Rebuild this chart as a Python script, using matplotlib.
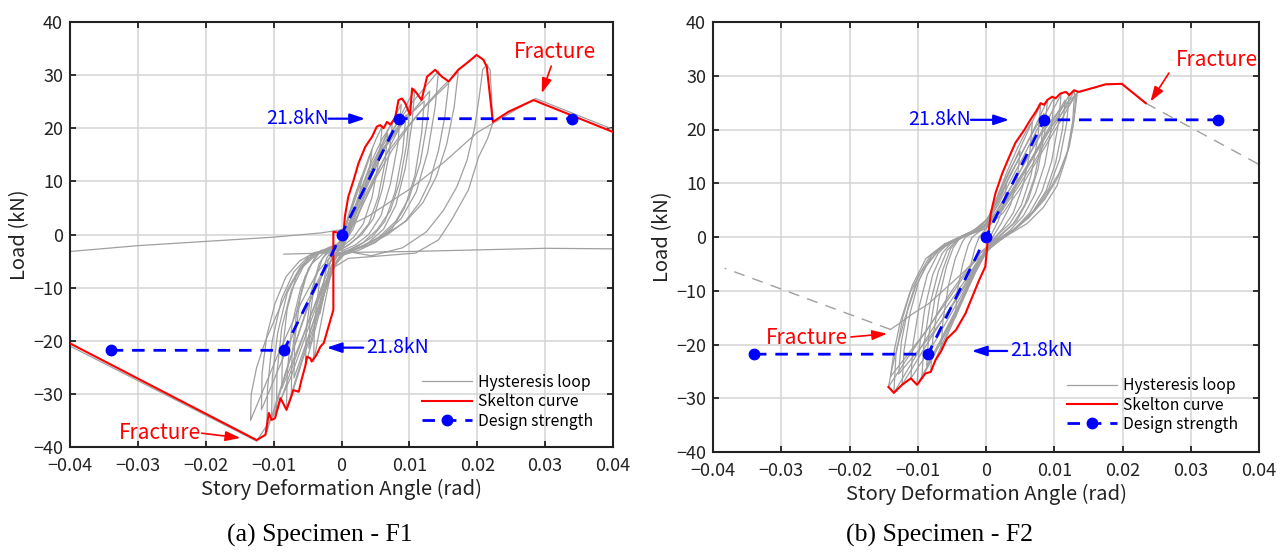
import matplotlib
matplotlib.use("Agg")
import matplotlib.pyplot as plt

plt.rcParams['font.family'] = ['Noto Sans CJK JP', 'DejaVu Sans']

# ---------------- data ----------------
x_ticks = [-0.04, -0.03, -0.02, -0.01, 0.0, 0.01, 0.02, 0.03, 0.04]
x_tick_labels = ['\u22120.04', '\u22120.03', '\u22120.02', '\u22120.01', '0', '0.01', '0.02', '0.03', '0.04']
y_ticks = [-40, -30, -20, -10, 0, 10, 20, 30, 40]
y_tick_labels = ['\u221240', '\u221230', '\u221220', '\u221210', '0', '10', '20', '30', '40']

design_x = [-0.034, -0.0085, 0.0, 0.0085, 0.034]
design_y = [-21.8, -21.8, 0.0, 21.8, 21.8]

# F1 hysteresis loops
f1_loops_x = [
    [0.0, 0.0010, 0.0020, 0.0030, 0.0026, 0.0018, 0.0008, -0.0004, -0.0012, -0.0022, -0.0019, -0.0012, -0.0004, 0.0],
    [0.0, 0.0012, 0.0025, 0.0036, 0.0045, 0.0040, 0.0030, 0.0017, 0.0004, -0.0008, -0.0018, -0.0026, -0.0032, -0.0029, -0.0020, -0.0010, 0.0],
    [0.0, 0.0012, 0.0026, 0.0040, 0.0051, 0.0060, 0.0055, 0.0045, 0.0032, 0.0018, 0.0004, -0.0008, -0.0016, -0.0024, -0.0033, -0.0041, -0.0040, -0.0033, -0.0022, -0.0012, 0.0],
    [0.0, 0.0014, 0.0028, 0.0042, 0.0056, 0.0068, 0.0064, 0.0054, 0.0040, 0.0024, 0.0008, -0.0006, -0.0016, -0.0026, -0.0037, -0.0048, -0.0046, -0.0039, -0.0028, -0.0015, 0.0],
    [0.0, 0.0015, 0.0030, 0.0045, 0.0060, 0.0075, 0.0070, 0.0060, 0.0047, 0.0030, 0.0012, -0.0004, -0.0015, -0.0026, -0.0038, -0.0053, -0.0052, -0.0045, -0.0033, -0.0020, -0.0008, 0.0],
    [0.0, 0.0016, 0.0032, 0.0050, 0.0068, 0.0088, 0.0083, 0.0072, 0.0058, 0.0040, 0.0020, 0.0002, -0.0012, -0.0025, -0.0040, -0.0057, -0.0074, -0.0073, -0.0066, -0.0054, -0.0038, -0.0020, -0.0006, 0.0],
    [0.0, 0.0020, 0.0038, 0.0056, 0.0075, 0.0095, 0.0090, 0.0079, 0.0064, 0.0045, 0.0024, 0.0005, -0.0010, -0.0024, -0.0040, -0.0055, -0.0070, -0.0069, -0.0061, -0.0049, -0.0033, -0.0016, 0.0],
    [0.0, 0.0018, 0.0036, 0.0056, 0.0078, 0.0100, 0.0096, 0.0086, 0.0072, 0.0053, 0.0032, 0.0010, -0.0006, -0.0020, -0.0036, -0.0058, -0.0088, -0.0087, -0.0080, -0.0067, -0.0050, -0.0030, -0.0012, 0.0],
    [0.0, 0.0018, 0.0036, 0.0055, 0.0075, 0.0092, 0.0108, 0.0104, 0.0094, 0.0080, 0.0062, 0.0040, 0.0018, 0.0000, -0.0014, -0.0028, -0.0043, -0.0062, -0.0081, -0.0080, -0.0073, -0.0060, -0.0044, -0.0026, -0.0010, 0.0],
    [0.0, 0.0020, 0.0040, 0.0060, 0.0080, 0.0100, 0.0122, 0.0118, 0.0108, 0.0093, 0.0074, 0.0050, 0.0025, 0.0004, -0.0012, -0.0028, -0.0046, -0.0070, -0.0096, -0.0095, -0.0088, -0.0074, -0.0056, -0.0035, -0.0015, 0.0],
    [0.0, 0.0020, 0.0042, 0.0065, 0.0088, 0.0110, 0.0130, 0.0126, 0.0116, 0.0100, 0.0080, 0.0055, 0.0030, 0.0006, -0.0012, -0.0030, -0.0052, -0.0082, -0.0118, -0.0117, -0.0110, -0.0098, -0.0082, -0.0062, -0.0040, -0.0018, 0.0],
    [0.0, 0.0020, 0.0040, 0.0062, 0.0085, 0.0105, 0.0125, 0.0143, 0.0138, 0.0127, 0.0110, 0.0088, 0.0062, 0.0035, 0.0010, -0.0010, -0.0026, -0.0045, -0.0072, -0.0103, -0.0102, -0.0094, -0.0080, -0.0062, -0.0040, -0.0018, 0.0],
    [0.0, 0.0022, 0.0045, 0.0068, 0.0092, 0.0115, 0.0138, 0.0158, 0.0152, 0.0143, 0.0130, 0.0115, 0.0094, 0.0068, 0.0040, 0.0012, -0.0010, -0.0028, -0.0050, -0.0080, -0.0110, -0.0109, -0.0102, -0.0088, -0.0070, -0.0048, -0.0024, 0.0],
    [0.0, 0.0025, 0.0050, 0.0075, 0.0100, 0.0125, 0.0150, 0.0172, 0.0166, 0.0155, 0.0140, 0.0120, 0.0095, 0.0065, 0.0035, 0.0008, -0.0015, -0.0035, -0.0060, -0.0095, -0.0134, -0.0133, -0.0125, -0.0112, -0.0095, -0.0078, -0.0060, -0.0040, -0.0020, 0.0],
    [0.0, 0.0044, 0.0090, 0.0125, 0.0150, 0.0170, 0.0185, 0.0196, 0.0203, 0.0208, 0.0214, 0.0219, 0.0223, 0.0215, 0.0202, 0.0187, 0.0162, 0.0143, 0.0109, 0.0060, 0.0010, -0.0015, -0.0030, -0.0050, -0.0075, -0.0100, -0.0118, -0.0125, -0.0400, -0.0400, -0.0300, -0.0200, -0.0100, -0.0030, 0.0000, 0.0040, 0.0100, 0.0150, 0.0200, 0.0228, 0.0257, 0.0286, 0.0400, 0.0400, 0.0300, 0.0200, 0.0100, 0.0000, -0.0085],
]
f1_loops_y = [
    [-1.0, 3.5, 7.5, 11.0, 7.0, 2.5, -0.5, -2.5, -5.5, -10.0, -6.5, -3.0, -1.5, -1.0],
    [-1.0, 3.5, 8.5, 12.5, 16.0, 11.0, 5.5, 1.0, -1.5, -3.5, -7.5, -11.5, -15.0, -10.5, -5.0, -2.5, -1.0],
    [-1.0, 4.0, 9.5, 14.5, 18.0, 20.4, 14.0, 7.0, 2.0, -0.5, -2.0, -3.5, -7.5, -12.5, -18.5, -23.9, -17.0, -9.5, -4.5, -2.5, -1.0],
    [-1.5, 3.0, 8.0, 12.5, 16.0, 19.0, 13.5, 7.0, 2.0, -0.5, -2.2, -3.2, -6.5, -11.0, -16.0, -21.5, -15.0, -8.5, -4.5, -2.8, -1.5],
    [-1.5, 3.5, 9.0, 14.0, 18.0, 21.0, 15.0, 8.5, 3.0, 0.0, -1.8, -3.0, -6.5, -11.5, -17.5, -24.6, -18.0, -11.0, -5.5, -3.0, -2.0, -1.5],
    [-1.5, 3.0, 8.5, 14.0, 19.5, 24.5, 17.0, 9.5, 3.5, 0.0, -2.0, -3.0, -6.0, -11.0, -17.0, -23.5, -30.5, -23.0, -14.5, -8.0, -4.0, -2.5, -1.8, -1.5],
    [-2.0, 2.5, 7.5, 12.5, 17.5, 22.5, 15.5, 8.0, 2.5, -0.5, -2.2, -3.2, -6.0, -10.5, -16.0, -21.5, -27.0, -20.0, -12.0, -6.5, -3.5, -2.5, -2.0],
    [-2.0, 4.0, 9.5, 15.0, 19.5, 23.0, 17.0, 10.0, 4.5, 1.0, -1.5, -3.0, -4.0, -7.0, -12.0, -19.5, -29.0, -22.0, -14.0, -8.0, -4.5, -3.0, -2.3, -2.0],
    [-2.0, 3.0, 8.5, 14.0, 19.5, 23.5, 27.4, 21.0, 12.5, 5.5, 1.0, -1.5, -3.0, -3.8, -6.5, -11.0, -17.0, -25.0, -33.0, -26.0, -17.0, -10.0, -5.5, -3.5, -2.5, -2.0],
    [-2.5, 4.5, 10.5, 16.0, 19.5, 22.5, 25.1, 19.0, 11.0, 5.0, 1.0, -1.5, -3.0, -3.8, -6.0, -10.0, -15.5, -24.0, -33.6, -26.0, -17.5, -10.5, -6.0, -3.5, -2.7, -2.5],
    [-2.8, 4.5, 10.5, 16.5, 20.5, 24.0, 27.0, 21.0, 13.5, 7.0, 2.5, -0.5, -2.3, -3.5, -4.2, -7.5, -13.0, -22.0, -33.0, -26.0, -19.0, -13.0, -8.0, -5.0, -3.4, -2.9, -2.8],
    [-2.5, 5.0, 11.0, 17.0, 21.5, 25.0, 28.0, 30.8, 24.0, 15.5, 8.0, 3.0, 0.0, -2.0, -3.2, -4.0, -7.0, -12.0, -22.0, -34.9, -27.0, -18.5, -11.0, -6.5, -3.8, -2.8, -2.5],
    [-3.0, 4.0, 10.0, 15.5, 19.5, 23.0, 26.0, 28.5, 22.0, 15.9, 10.0, 6.0, 2.5, 0.0, -2.0, -3.2, -4.0, -7.5, -13.5, -25.0, -37.1, -29.0, -20.0, -12.0, -7.0, -4.0, -3.2, -3.0],
    [-3.0, 4.0, 10.5, 16.0, 20.5, 24.5, 28.0, 30.6, 24.0, 17.0, 11.0, 6.0, 2.5, 0.0, -2.0, -3.2, -4.0, -7.0, -13.0, -23.0, -35.0, -30.0, -25.0, -20.0, -15.0, -10.0, -6.0, -3.5, -2.8, -3.0],
    [-3.0, -4.0, -2.5, 0.5, 4.5, 9.0, 14.0, 20.0, 26.0, 31.0, 32.0, 31.0, 21.0, 18.0, 14.6, 8.4, 2.7, -1.0, -3.5, -4.0, -4.5, -6.5, -11.0, -18.0, -27.0, -34.0, -37.5, -38.9, -21.0, -3.2, -2.1, -1.3, -0.5, 0.3, 0.9, 3.5, 8.5, 13.5, 19.2, 21.3, 23.5, 25.6, 19.8, -2.7, -2.6, -2.9, -3.2, -3.4, -3.7],
]

f1_skel_x = [-0.0400, -0.0125, -0.0112, -0.0107, -0.0103, -0.0098, -0.0090, -0.0081, -0.0074, -0.0071, -0.0063, -0.0059, -0.0053, -0.0051, -0.0046, -0.0044, -0.0037, -0.0031, -0.0026, -0.0022, -0.0012, -0.0012, 0.0003, 0.0005, 0.0010, 0.0018, 0.0025, 0.0035, 0.0045, 0.0052, 0.0057, 0.0062, 0.0067, 0.0072, 0.0079, 0.0084, 0.0089, 0.0094, 0.0101, 0.0104, 0.0109, 0.0118, 0.0126, 0.0138, 0.0148, 0.0158, 0.0172, 0.0187, 0.0199, 0.0209, 0.0214, 0.0223, 0.0246, 0.0283, 0.0400]
f1_skel_y = [-20.5, -38.7, -37.7, -33.6, -34.9, -34.6, -30.8, -33.0, -30.5, -29.3, -29.6, -27.4, -24.6, -23.0, -23.3, -23.9, -22.7, -21.1, -20.4, -18.6, -14.2, 0.5, 0.2, 3.4, 7.1, 10.3, 13.4, 16.5, 18.4, 20.3, 20.6, 20.0, 21.2, 20.7, 21.9, 25.3, 25.6, 24.7, 22.5, 27.5, 26.9, 25.3, 29.7, 31.0, 29.7, 28.8, 31.0, 32.5, 33.8, 32.9, 31.6, 21.2, 23.1, 25.3, 19.3]

# F2 hysteresis loops
f2_loops_x = [
    [-0.0010, 0.0000, 0.0012, 0.0022, 0.0030, 0.0027, 0.0018, 0.0008, 0.0000, -0.0010, -0.0018, -0.0025, -0.0023, -0.0016, -0.0010],
    [-0.0020, -0.0005, 0.0008, 0.0020, 0.0035, 0.0050, 0.0046, 0.0036, 0.0022, 0.0010, 0.0000, -0.0012, -0.0025, -0.0036, -0.0045, -0.0042, -0.0034, -0.0026, -0.0020],
    [-0.0030, -0.0010, 0.0005, 0.0018, 0.0032, 0.0046, 0.0058, 0.0068, 0.0064, 0.0054, 0.0040, 0.0024, 0.0010, 0.0000, -0.0012, -0.0026, -0.0040, -0.0054, -0.0066, -0.0063, -0.0055, -0.0045, -0.0035, -0.0030],
    [-0.0040, -0.0015, 0.0003, 0.0018, 0.0034, 0.0050, 0.0066, 0.0080, 0.0076, 0.0066, 0.0052, 0.0035, 0.0018, 0.0005, -0.0008, -0.0022, -0.0038, -0.0054, -0.0068, -0.0081, -0.0078, -0.0069, -0.0058, -0.0048, -0.0040],
    [-0.0042, -0.0018, 0.0002, 0.0018, 0.0035, 0.0052, 0.0069, 0.0085, 0.0081, 0.0071, 0.0057, 0.0040, 0.0022, 0.0007, -0.0006, -0.0020, -0.0036, -0.0052, -0.0068, -0.0087, -0.0084, -0.0075, -0.0063, -0.0052, -0.0042],
    [-0.0045, -0.0020, 0.0000, 0.0016, 0.0034, 0.0052, 0.0070, 0.0090, 0.0086, 0.0076, 0.0062, 0.0045, 0.0026, 0.0010, -0.0004, -0.0018, -0.0034, -0.0052, -0.0070, -0.0094, -0.0091, -0.0082, -0.0070, -0.0057, -0.0045],
    [-0.0050, -0.0025, 0.0000, 0.0018, 0.0036, 0.0055, 0.0075, 0.0100, 0.0096, 0.0086, 0.0072, 0.0055, 0.0035, 0.0015, 0.0000, -0.0015, -0.0030, -0.0048, -0.0070, -0.0101, -0.0098, -0.0090, -0.0078, -0.0064, -0.0050],
    [-0.0055, -0.0028, 0.0000, 0.0020, 0.0040, 0.0062, 0.0085, 0.0110, 0.0106, 0.0096, 0.0082, 0.0064, 0.0042, 0.0020, 0.0002, -0.0014, -0.0030, -0.0050, -0.0075, -0.0110, -0.0107, -0.0098, -0.0086, -0.0070, -0.0055],
    [-0.0058, -0.0030, 0.0000, 0.0021, 0.0043, 0.0066, 0.0090, 0.0116, 0.0112, 0.0102, 0.0088, 0.0069, 0.0046, 0.0022, 0.0003, -0.0014, -0.0031, -0.0053, -0.0082, -0.0128, -0.0124, -0.0114, -0.0100, -0.0081, -0.0058],
    [-0.0060, -0.0030, 0.0000, 0.0022, 0.0045, 0.0068, 0.0094, 0.0122, 0.0118, 0.0108, 0.0092, 0.0072, 0.0048, 0.0024, 0.0004, -0.0014, -0.0032, -0.0054, -0.0082, -0.0123, -0.0120, -0.0111, -0.0098, -0.0080, -0.0060],
    [-0.0062, -0.0032, 0.0000, 0.0024, 0.0048, 0.0073, 0.0100, 0.0130, 0.0127, 0.0118, 0.0104, 0.0084, 0.0060, 0.0034, 0.0010, -0.0010, -0.0030, -0.0055, -0.0088, -0.0135, -0.0132, -0.0122, -0.0108, -0.0088, -0.0062],
    [-0.0066, -0.0038, -0.0010, 0.0012, 0.0036, 0.0062, 0.0090, 0.0132, 0.0128, 0.0120, 0.0105, 0.0086, 0.0062, 0.0037, 0.0012, -0.0008, -0.0028, -0.0052, -0.0088, -0.0140, -0.0135, -0.0126, -0.0112, -0.0095, -0.0080, -0.0066],
    [-0.0069, -0.0044, -0.0020, 0.0000, 0.0025, 0.0050, 0.0076, 0.0104, 0.0134, 0.0129, 0.0122, 0.0107, 0.0087, 0.0063, 0.0039, 0.0014, -0.0005, -0.0025, -0.0050, -0.0085, -0.0115, -0.0143, -0.0137, -0.0130, -0.0118, -0.0103, -0.0088, -0.0069],
    [-0.0069, -0.0040, 0.0000, 0.0040, 0.0080, 0.0110, 0.0136, 0.0156, 0.0175, 0.0199, 0.0234],
    [0.0010, -0.0020, -0.0050, -0.0085, -0.0110, -0.0127, -0.0140],
]
f2_loops_y = [
    [0.0, 1.5, 5.0, 7.5, 10.0, 6.5, 3.0, 0.5, -2.0, -4.5, -7.0, -9.0, -5.5, -2.0, 0.0],
    [0.0, 1.5, 4.5, 8.5, 12.5, 16.0, 11.0, 6.0, 2.5, 0.0, -2.5, -5.5, -9.0, -12.0, -15.0, -10.0, -5.0, -1.5, 0.0],
    [0.0, 1.5, 4.0, 8.0, 12.5, 16.5, 19.5, 21.5, 15.5, 9.5, 4.5, 1.5, -0.5, -2.5, -5.5, -9.5, -13.5, -17.5, -21.0, -15.5, -9.0, -4.0, -1.0, 0.0],
    [-0.5, 1.5, 3.5, 7.5, 12.0, 16.5, 21.0, 24.5, 18.5, 11.5, 6.0, 2.5, 0.5, -1.5, -4.0, -8.0, -12.5, -17.0, -21.0, -25.0, -19.0, -11.5, -5.5, -2.0, -0.5],
    [-0.6, 1.2, 3.2, 7.0, 11.5, 15.5, 19.5, 23.0, 17.5, 11.0, 6.0, 2.5, 0.5, -1.2, -3.5, -7.0, -11.5, -15.5, -19.5, -24.0, -18.5, -11.5, -6.0, -2.2, -0.6],
    [-0.8, 1.0, 3.0, 6.5, 11.0, 15.5, 20.0, 25.5, 19.5, 12.5, 7.0, 3.0, 0.8, -1.0, -3.5, -7.0, -11.5, -16.0, -20.5, -26.3, -20.0, -12.5, -6.5, -2.5, -0.8],
    [-1.0, 0.8, 2.5, 6.0, 10.5, 15.0, 20.0, 26.0, 20.5, 13.5, 8.0, 4.0, 1.2, -0.8, -3.0, -6.5, -10.5, -15.0, -20.5, -27.5, -21.0, -13.5, -7.0, -3.0, -1.0],
    [-1.2, 0.5, 2.2, 5.5, 10.0, 15.0, 20.5, 26.5, 21.0, 14.0, 8.5, 4.5, 1.5, -0.5, -2.5, -5.5, -9.5, -14.0, -19.5, -26.3, -20.0, -13.0, -7.0, -3.0, -1.2],
    [-1.3, 0.5, 2.1, 5.2, 9.8, 14.5, 19.8, 25.5, 20.0, 13.8, 8.6, 4.8, 1.8, -0.4, -2.4, -5.2, -9.2, -13.5, -18.5, -25.5, -19.5, -13.0, -7.5, -3.3, -1.3],
    [-1.3, 0.5, 2.0, 5.0, 9.5, 14.5, 20.0, 26.4, 21.0, 14.5, 9.0, 5.0, 2.0, -0.3, -2.3, -5.0, -9.0, -13.5, -19.0, -27.5, -21.0, -14.0, -8.0, -3.5, -1.3],
    [-1.4, 0.4, 2.0, 5.0, 9.5, 14.5, 20.5, 27.3, 21.5, 15.0, 9.5, 5.5, 2.5, 0.5, -1.5, -4.0, -8.0, -12.5, -19.0, -29.0, -22.0, -15.0, -9.0, -4.0, -1.4],
    [-2.0, -0.2, 1.2, 3.5, 8.0, 13.5, 19.5, 26.5, 21.0, 16.0, 11.0, 7.0, 3.5, 1.0, -1.0, -3.0, -6.5, -11.0, -17.5, -26.0, -21.5, -16.0, -10.5, -6.5, -4.0, -2.0],
    [-2.4, -0.6, 0.7, 1.6, 4.5, 9.0, 14.5, 20.5, 27.0, 21.8, 16.8, 11.9, 7.5, 3.8, 1.3, -0.6, -2.5, -5.5, -10.0, -17.0, -22.5, -27.9, -24.1, -20.4, -14.8, -9.2, -5.5, -2.4],
    [-2.4, -0.3, 1.6, 10.0, 19.0, 24.0, 27.0, 27.7, 28.4, 28.5, 24.9],
    [-1.5, -5.0, -8.5, -12.5, -14.5, -16.1, -17.2],
]
f2_post_pos_x = [0.0234, 0.0400]
f2_post_pos_y = [24.9, 13.5]
f2_post_neg_x = [-0.0140, -0.0383]
f2_post_neg_y = [-17.2, -5.8]

f2_skel_x = [-0.0143, -0.0135, -0.0123, -0.0110, -0.0101, -0.0094, -0.0089, -0.0081, -0.0074, -0.0066, -0.0057, -0.0044, -0.0030, -0.0020, -0.0010, -0.0001, 0.0003, 0.0007, 0.0014, 0.0024, 0.0034, 0.0043, 0.0056, 0.0065, 0.0073, 0.0080, 0.0085, 0.0090, 0.0097, 0.0102, 0.0109, 0.0117, 0.0122, 0.0129, 0.0136, 0.0156, 0.0175, 0.0199, 0.0234]
f2_skel_y = [-27.9, -29.0, -27.5, -26.3, -27.5, -26.3, -25.4, -25.1, -22.9, -21.3, -18.9, -17.3, -14.2, -11.1, -8.0, -5.5, 0.0, 4.4, 8.2, 11.9, 14.9, 17.5, 19.9, 21.8, 23.3, 24.9, 24.6, 25.5, 26.1, 25.8, 26.7, 27.0, 26.4, 27.3, 27.0, 27.7, 28.4, 28.5, 24.9]

GRAY = '#a0a0a0'
RED = '#ff0000'
BLUE = '#0000ff'
INK = '#222222'

fig = plt.figure(figsize=(12.84, 5.52), dpi=100)
ax1 = fig.add_axes([70/1284, 1-447/552, 543/1284, 425/552])
ax2 = fig.add_axes([713/1284, 1-452/552, 546/1284, 430/552])


def style_axes(ax):
    ax.set_xlim(-0.04, 0.04)
    ax.set_ylim(-40, 40)
    ax.set_xticks(x_ticks)
    ax.set_xticklabels(x_tick_labels)
    ax.set_yticks(y_ticks)
    ax.set_yticklabels(y_tick_labels)
    ax.grid(True, color='#d4d4d4', linewidth=1.1)
    ax.set_axisbelow(True)
    ax.tick_params(direction='in', length=4, width=1.3, top=True, right=True,
                   labelsize=13, colors=INK, labelcolor=INK)
    ax.tick_params(axis='x', pad=7)
    ax.tick_params(axis='y', pad=5)
    for s in ax.spines.values():
        s.set_linewidth(1.5)
        s.set_color(INK)
    ax.set_xlabel('Story Deformation Angle (rad)', fontsize=14.5, color=INK, labelpad=3)
    ax.set_ylabel('Load (kN)', fontsize=14.5, color=INK, labelpad=2)


def draw_design(ax):
    ax.plot(design_x, design_y, color=BLUE, linestyle=(0, (4.5, 3.2)), linewidth=2.0,
            marker='o', markersize=7.5, zorder=5, label='Design strength')


def blue_note(ax, x_tail, x_head, y, text, side):
    ax.annotate('', xy=(x_head, y), xytext=(x_tail, y),
                arrowprops=dict(arrowstyle='-|>,head_length=0.9,head_width=0.3', color=BLUE, lw=1.6,
                                shrinkA=0, shrinkB=0), zorder=6)
    if side == 'left':
        ax.text(x_tail, y, text, color=BLUE, fontsize=14, ha='right', va='center')
    else:
        ax.text(x_tail + 0.0005, y, text, color=BLUE, fontsize=14, ha='left', va='center')


def red_note(ax, tx, ty, ax0, ay0, hx, hy):
    ax.text(tx, ty, 'Fracture', color=RED, fontsize=15, ha='center', va='center')
    ax.annotate('', xy=(hx, hy), xytext=(ax0, ay0),
                arrowprops=dict(arrowstyle='-|>,head_length=0.9,head_width=0.3', color=RED, lw=1.2,
                                shrinkA=0, shrinkB=0), zorder=6)


legend_kw = dict(loc='upper left', frameon=False, fontsize=11.3, handlelength=3.2,
                 handletextpad=0.4, labelspacing=0.15, borderpad=0, borderaxespad=0)

# ---- F1 ----
style_axes(ax1)
for i, (lx, ly) in enumerate(zip(f1_loops_x, f1_loops_y)):
    ax1.plot(lx, ly, color=GRAY, linewidth=0.9, zorder=2,
             label='Hysteresis loop' if i == 0 else None)
ax1.plot(f1_skel_x, f1_skel_y, color=RED, linewidth=1.5, zorder=3, label='Skelton curve')
draw_design(ax1)
blue_note(ax1, -0.0019, 0.0035, 21.8, '21.8kN', 'left')
blue_note(ax1, 0.0032, -0.0022, -21.3, '21.8kN', 'right')
red_note(ax1, 0.0315, 34.4, 0.0309, 31.7, 0.0295, 26.6)
red_note(ax1, -0.0268, -37.4, -0.0206, -37.4, -0.0149, -38.3)
ax1.legend(bbox_to_anchor=(0.648, 0.172), **legend_kw)

# ---- F2 ----
style_axes(ax2)
for i, (lx, ly) in enumerate(zip(f2_loops_x, f2_loops_y)):
    ax2.plot(lx, ly, color=GRAY, linewidth=0.9, zorder=2,
             label='Hysteresis loop' if i == 0 else None)
ax2.plot(f2_post_pos_x, f2_post_pos_y, color=GRAY, linewidth=1.0, linestyle=(0, (8, 6)), zorder=2)
ax2.plot(f2_post_neg_x, f2_post_neg_y, color=GRAY, linewidth=1.0, linestyle=(0, (8, 6)), zorder=2)
ax2.plot(f2_skel_x, f2_skel_y, color=RED, linewidth=1.5, zorder=3, label='Skelton curve')
draw_design(ax2)
blue_note(ax2, -0.0022, 0.0034, 21.8, '21.8kN', 'left')
blue_note(ax2, 0.0031, -0.0021, -21.2, '21.8kN', 'right')
red_note(ax2, 0.0338, 32.9, 0.0268, 30.5, 0.0241, 25.2)
red_note(ax2, -0.0262, -18.8, -0.0198, -18.6, -0.0145, -18.0)
ax2.legend(bbox_to_anchor=(0.648, 0.174), **legend_kw)

fig.text(320/1284, 1-535/552, '(a) Specimen - F1', family='Liberation Serif', fontsize=18.5,
         ha='center', va='center', color='black')
fig.text(940/1284, 1-535/552, '(b) Specimen - F2', family='Liberation Serif', fontsize=18.5,
         ha='center', va='center', color='black')

fig.savefig('out.png', dpi=100)
